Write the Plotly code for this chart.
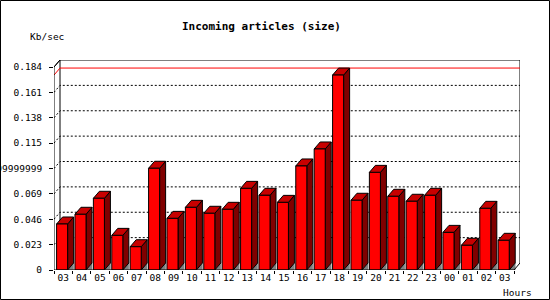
import plotly.graph_objects as go

# ---- data ----
hours = ["03", "04", "05", "06", "07", "08", "09", "10", "11", "12", "13", "14", "15",
         "16", "17", "18", "19", "20", "21", "22", "23", "00", "01", "02", "03"]
kb_sec = [0.0417, 0.0505, 0.0650, 0.0314, 0.0211, 0.0922, 0.0468, 0.0568, 0.0514,
          0.0550, 0.0740, 0.0677, 0.0613, 0.0943, 0.1097, 0.1767, 0.0632, 0.0885,
          0.0668, 0.0623, 0.0677, 0.0341, 0.0224, 0.0559, 0.0269]
ytick_vals = [0, 0.023, 0.046, 0.069, 0.092, 0.115, 0.138, 0.161, 0.184]
ytick_text = ["0", "0.023", "0.046", "0.069", "0.09199999999", "0.115", "0.138", "0.161", "0.184"]
title_text = "Incoming articles (size)"
y_unit = "Kb/sec"
x_unit = "Hours"

# ---- geometry (pixels -> data units through the axis scales) ----
W, H = 550, 300
ML, MR, MT, MB = 54, 30, 60, 30
PW, PH = W - ML - MR, H - MT - MB
n = len(kb_sec)
SLOT_PX = 460 / n
FRONT_H_PX = 203
ytop = ytick_vals[-1]
X0 = -0.5
X1 = X0 + PW / SLOT_PX
Y1 = PH * ytop / FRONT_H_PX
DX = 6 / SLOT_PX
DY = 7 * ytop / FRONT_H_PX
FL, FR = -0.36, 0.24
XF_END = n - 0.5

MONO = "DejaVu Sans Mono"
fig = go.Figure()

def poly_trace(xs, ys, fill=None, color="black", width=1, dash=None):
    return go.Scatter(
        x=xs, y=ys, mode="lines",
        fill="toself" if fill else None, fillcolor=fill,
        line=dict(color=color, width=width, dash=dash),
        hoverinfo="skip", showlegend=False, cliponaxis=False,
    )

# grid lines (back plane, dotted) with diagonal on the side wall
gx, gy = [], []
for v in ytick_vals[1:-1]:
    gx += [X0, X0 + DX, X1, None]
    gy += [v, v + DY, v + DY, None]
fig.add_trace(poly_trace(gx, gy, dash="2px,2px"))

# back frame lines
fig.add_trace(poly_trace([X0, X0 + DX, X1, X1, None, X0 + DX, X0 + DX],
                         [ytop, ytop + DY, ytop + DY, DY, None, ytop + DY, DY]))

# max line
vmax = max(kb_sec)
fig.add_trace(poly_trace([X0, X0 + DX, X1], [vmax, vmax + DY, vmax + DY], color="#ff0000"))

# bars
sh_x, sh_y, sd_x, sd_y, tp_x, tp_y, fr_x, fr_y = [], [], [], [], [], [], [], []
for i, v in enumerate(kb_sec):
    x0, x1 = i + FL, i + FR
    sh_x += [x1, x1 + DX, x1 + DX, x1, None]
    sh_y += [0, DY, 0, 0, None]
    sd_x += [x1, x1 + DX, x1 + DX, x1, x1, None]
    sd_y += [0, DY, v + DY, v, 0, None]
    tp_x += [x0, x1, x1 + DX, x0 + DX, x0, None]
    tp_y += [v, v, v + DY, v + DY, v, None]
    fr_x += [x0, x1, x1, x0, x0, None]
    fr_y += [0, 0, v, v, 0, None]
fig.add_trace(poly_trace(sh_x, sh_y, fill="#808080", color="#808080", width=0.5))
fig.add_trace(poly_trace(sd_x, sd_y, fill="#800000"))
fig.add_trace(poly_trace(tp_x, tp_y, fill="#c80000"))
fig.add_trace(poly_trace(fr_x, fr_y, fill="#ff0000"))

# front axes
fig.add_trace(poly_trace([X0, X0 + DX, None, X0, X0, XF_END, XF_END + DX],
                         [ytop, ytop + DY, None, ytop, 0, 0, DY]))

px = lambda p: (p - ML) / PW
py = lambda p: (H - MB - p) / PH

fig.update_layout(
    width=W, height=H, template="none",
    margin=dict(l=ML, r=MR, t=MT, b=MB, pad=0),
    paper_bgcolor="white", plot_bgcolor="white",
    showlegend=False,
    xaxis=dict(range=[X0, X1], showgrid=False, zeroline=False, showline=False,
               tickmode="array", tickvals=list(range(n)), ticktext=hours, ticks="",
               tickfont=dict(family=MONO, size=9.5, color="black"),
               minor=dict(tick0=-0.5, dtick=1, ticks="outside", ticklen=3,
                          tickcolor="black", tickwidth=1, showgrid=False),
               automargin=False, fixedrange=True),
    yaxis=dict(range=[0, Y1], showgrid=False, zeroline=False, showline=False,
               tickmode="array", tickvals=ytick_vals, ticktext=ytick_text,
               ticks="outside", ticklen=4, tickcolor="black", tickwidth=1,
               ticklabelstandoff=5,
               tickfont=dict(family=MONO, size=9.5, color="black"),
               automargin=False, fixedrange=True),
    annotations=[
        dict(text=f"<b>{title_text}</b>", xref="paper", yref="paper", x=px(261), y=py(27),
             xanchor="center", yanchor="middle", showarrow=False,
             font=dict(family=MONO, size=11, color="black")),
        dict(text=y_unit, xref="paper", yref="paper", x=px(28), y=py(37),
             xanchor="left", yanchor="middle", showarrow=False,
             font=dict(family=MONO, size=9.5, color="black")),
        dict(text=x_unit, xref="paper", yref="paper", x=px(534), y=py(292),
             xanchor="right", yanchor="middle", showarrow=False,
             font=dict(family=MONO, size=9.5, color="black")),
    ],
    shapes=[dict(type="rect", xref="paper", yref="paper",
                 x0=px(0.5), x1=px(549.5), y0=py(299.5), y1=py(0.5),
                 line=dict(color="black", width=1), fillcolor="rgba(0,0,0,0)")],
)

fig.write_html("out.html", config={"displayModeBar": False})
